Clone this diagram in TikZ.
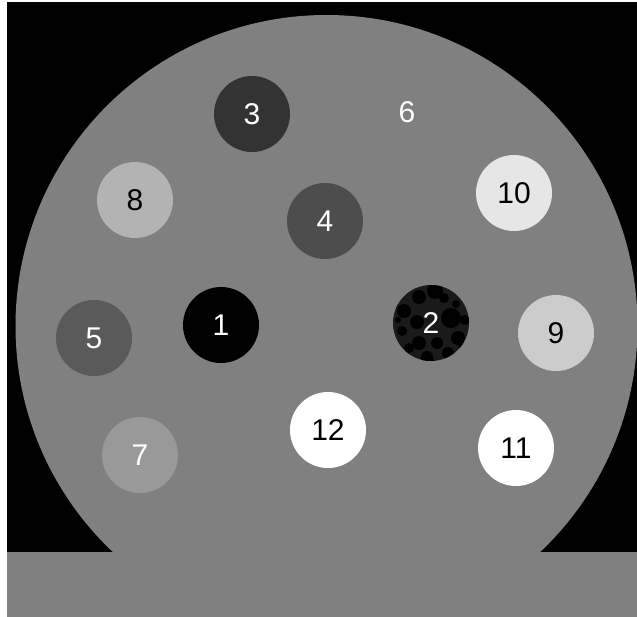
\documentclass[tikz,border=0pt]{standalone}
\usepackage{fontspec}
\setmainfont{Liberation Sans}
\begin{document}
\begin{tikzpicture}[x=1pt,y=-1pt,
  insert/.style={circle,minimum size=76pt,inner sep=0pt,font=\fontsize{30}{30}\selectfont},
  darkins/.style={insert,text=white},
  lightins/.style={insert,text=black}]
\definecolor{bg}{RGB}{128,128,128}
\useasboundingbox (0,0) rectangle (637,616);
\clip (0,0) rectangle (637,616);
\fill[white] (0,0) rectangle (637,616);
\fill[black] (7,2) rectangle (645,625);
\begin{scope}
\clip (7,2) rectangle (645,625);
\fill[bg] (326.5,326) circle[radius=311];
\end{scope}
\fill[bg] (7,552) rectangle (645,625);
% inserts
\node[darkins,fill=black] (i1) at (221,325) {1};
\node[insert,fill={rgb,255:red,26;green,26;blue,26}] (i2) at (431,323) {};
\begin{scope}
\clip (431,323) circle[radius=38];
\foreach \x/\y/\r in {435/291/8, 419/297/7, 451/318/10, 404/311/7, 417/322/7, 402/331/5, 458/338/7, 419/343/7, 437/343/6, 448/353/6, 427/357/6, 465/320/5, 409/348/5, 444/298/5, 456/304/4, 431/362/4, 398/320/3, 462/345/4, 395/305/3}
  \fill[black] (\x,\y) circle[radius=\r];
\end{scope}
\node[insert,text=white] at (i2.center) {2};
\node[darkins,fill={rgb,255:red,51;green,51;blue,51}] (i3) at (252,114) {3};
\node[darkins,fill={rgb,255:red,77;green,77;blue,77}] (i4) at (325,221) {4};
\node[darkins,fill={rgb,255:red,90;green,90;blue,90}] (i5) at (94,338) {5};
\node[darkins] (i6) at (407,112) {6};
\node[darkins,fill={rgb,255:red,153;green,153;blue,153}] (i7) at (140,455) {7};
\node[lightins,fill={rgb,255:red,179;green,179;blue,179}] (i8) at (135,200) {8};
\node[lightins,fill={rgb,255:red,204;green,204;blue,204}] (i9) at (556,333) {9};
\node[lightins,fill={rgb,255:red,230;green,230;blue,230}] (i10) at (514,193) {10};
\node[lightins,fill=white] (i11) at (516,448) {11};
\node[lightins,fill=white] (i12) at (328,430) {12};
\end{tikzpicture}
\end{document}
